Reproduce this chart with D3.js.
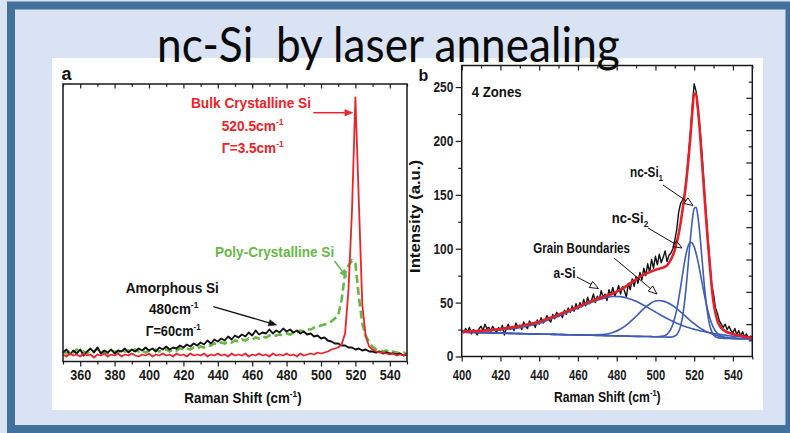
<!DOCTYPE html>
<html><head><meta charset="utf-8">
<script src="https://cdn.jsdelivr.net/npm/d3@7"></script>
<style>html,body{margin:0;padding:0;background:#dae3f3;} svg{display:block;}</style>
</head><body>
<svg id="chart" width="790" height="433"></svg>
<script>
// ---------- DATA ----------
const titleText = 'nc-Si\u00a0\u00a0by laser annealing';
// Panel a: Raman shift grid (cm-1), step 2
const shiftA = d3.range(350, 551, 2);
const redA = [
 7,5,8,6,7,5,8,6,7,4,
 7,6,8,5,7,6,8,5,7,6,
 8,6,5,7,6,8,5,7,6,8,
 6,7,5,8,6,7,5,8,6,7,
 6,8,5,7,6,8,6,7,5,8,
 6,7,6,8,5,7,6,8,6,7,
 5,8,6,7,6,8,6,7,5,8,
 6,7,8,7,9,8,9,10,12,13,
 14,17,28,72,150,264,160,57,25,15,
 12,10,9,9,8,7,8,6,7,6,8];
const greenA = [
 10,8,11,9,12,9,10,8,11,10,
 13,9,10,8,11,10,9,12,10,11,
 9,12,10,11,9,11,10,12,10,11,
 12,10,12,11,13,12,13,12,14,13,
 15,14,16,16,18,17,19,18,20,19,
 21,20,22,21,23,22,24,23,25,24,
 26,25,26,27,26,28,27,29,29,31,
 30,32,32,34,34,36,37,38,40,43,
 46,62,88,96,101,98,65,38,26,19,
 15,12,11,10,11,9,10,9,8,9,8];
const blackA = [
 9,12,7,11,8,12,6,10,13,9,
 14,8,11,9,12,8,11,10,13,9,
 12,10,13,11,14,11,13,10,14,12,
 15,12,14,13,16,14,17,15,18,16,
 19,17,21,18,22,20,23,21,25,22,
 26,24,27,25,29,26,31,27,29,28,
 32,28,31,29,33,30,32,29,31,28,
 30,27,28,25,26,23,24,21,20,18,
 18,16,16,14,14,12,13,11,12,10,
 10,9,10,8,9,8,8,7,8,6,7];
const ticksAx = [360,380,400,420,440,460,480,500,520,540];
const minorAx = [350,370,390,410,430,450,470,490,510,530,550];

// Panel b: measured spectrum, step 1
const shiftB = d3.range(400, 551, 1);
const blackB = [
 24,22,26,23,27,21,25,23,20,26,
 28,24,30,26,27,23,28,25,22,27,
 24,29,20,26,30,25,28,24,31,27,
 29,25,32,28,26,33,29,31,27,34,
 30,36,31,33,38,34,32,39,35,41,
 37,40,36,43,39,45,41,47,42,49,
 44,50,46,53,47,55,49,52,58,50,
 56,53,61,55,58,52,62,57,64,56,
 60,66,58,65,61,55,68,62,72,65,
 74,68,78,71,82,75,86,78,90,82,
 93,85,95,87,92,98,88,94,96,100,
 108,118,134,142,145,150,166,186,206,232,
 253,246,226,212,188,162,136,112,90,66,
 58,45,40,33,30,27,30,25,28,24,
 22,26,20,24,19,23,18,21,17,19,18];
// Panel b: fitted components
const fitX = [400,405,410,415,420,425,430,435,440,445,450,455,460,465,470,
 474,478,482,486,490,494,498,
 500,502,504,506,508,
 509,510,511,512,513,514,515,516,517,518,519,520,521,522,523,524,525,526,527,528,529,530,
 532,534,536,538,540,
 543,546,550];
const aSiB = [23.5,23.6,23.8,24.1,24.7,25.5,26.7,28.5,30.8,34.1,37.4,41.2,45.0,48.8,52.1,
 54.4,55.7,55.6,53.9,51.2,47.6,43.4,
 41.3,39.2,37.1,35.2,33.5,
 32.6,31.8,30.9,30.2,29.4,28.7,28.1,27.4,26.9,26.3,25.8,25.3,24.8,24.4,23.9,23.5,23.2,22.8,22.5,22.1,21.8,21.4,
 20.9,20.3,19.8,19.3,18.9,
 18.4,17.9,17.3];
const gbB = [22.5,22.3,22.1,21.9,21.7,21.5,21.2,21.0,20.8,20.6,20.4,20.2,20.0,19.9,20.1,
 20.7,22.3,25.5,30.6,37.3,44.5,49.9,
 51.4,51.9,51.4,50.1,48.3,
 47.1,45.8,44.3,42.9,41.3,39.7,38.1,36.5,34.9,33.3,31.8,30.4,29.0,27.7,26.4,25.4,24.3,23.3,22.5,21.7,21.0,20.3,
 19.3,18.5,17.9,17.4,17.1,
 16.7,16.5,16.2];
const ncSi2B = [22.5,22.3,22.1,21.9,21.7,21.5,21.2,21.0,20.8,20.6,20.4,20.2,20.0,19.8,19.6,
 19.4,19.2,19.1,18.9,18.7,18.6,18.4,
 18.3,18.4,18.9,20.6,25.6,
 29.9,36.0,43.8,53.5,64.5,76.2,87.3,96.6,103.3,106.0,105.2,101.7,95.6,87.8,78.7,69.1,59.7,50.8,43.0,36.3,30.9,26.6,
 21.3,18.6,17.4,16.9,16.7,
 16.5,16.4,16.2];
const ncSi1B = [22.5,22.3,22.1,21.9,21.7,21.5,21.2,21.0,20.8,20.6,20.4,20.2,20.0,19.8,19.6,
 19.4,19.2,19.1,18.9,18.7,18.6,18.4,
 18.3,18.2,18.1,18.0,18.0,
 18.3,19.0,20.3,23.2,28.4,37.1,50.0,67.2,87.7,108.6,126.2,137.5,138.5,128.8,112.3,91.7,70.9,52.8,38.9,29.2,23.3,20.0,
 17.5,17.0,16.8,16.7,16.6,
 16.5,16.4,16.2];
const fitB = [23,23.3,23.8,24.5,25.5,26.8,28.3,30.2,32.3,35.5,38.8,42.5,46,50,53.5,
 56,58.5,62,66.5,71.5,76,79,
 80.5,81.5,82.5,84.5,90,
 94,99,106,114,124,136,149,164,182,203,226,244,243,229,207,182,157,132,108,86,66,50,
 33,26.5,23.5,22,20.8,
 19.6,18.4,17.3];
const ticksBx = [400,420,440,460,480,500,520,540];
const minorBx = [410,430,450,470,490,510,530,550];
const ticksBy = [0,50,100,150,200,250];
const minorBy = [25,75,125,175,225];
const ticksBr = [30,60,90,120,150,180,210,240];
const minorBr = [15,45,75,105,135,165,195,225,255];

// ---------- DRAWING ----------
const FONT = "'Liberation Sans', Arial, Helvetica, sans-serif";
const svg = d3.select('#chart');
svg.append('rect').attr('width', 790).attr('height', 433).attr('fill', '#dae3f3');
svg.append('rect').attr('x', 11).attr('y', 5.5).attr('width', 778.5).attr('height', 423.5)
  .attr('fill', 'none').attr('stroke', '#41719c').attr('stroke-width', 8);
svg.append('rect').attr('x', 52).attr('y', 58).attr('width', 711).attr('height', 352).attr('fill', '#fff');

function label(g, x, y, parts, o) {
  const t = g.append('text').attr('font-family', o.family || FONT)
    .attr('font-weight', o.weight || 'bold').attr('font-size', o.size).attr('fill', o.color || '#111');
  let shift = 0;
  parts.forEach(p => {
    const s = typeof p === 'string' ? {t: p} : p;
    const ts = t.append('tspan').text(s.t);
    const target = s.s === 'sup' ? -o.size * 0.42 : s.s === 'sub' ? o.size * 0.3 : 0;
    if (target - shift !== 0) ts.attr('dy', target - shift);
    shift = target;
    if (s.s) ts.attr('font-size', o.size * 0.62);
  });
  const w = t.node().getComputedTextLength();
  const sx = o.w ? o.w / w : (o.sx || 1);
  let x0 = x;
  if (o.anchor === 'middle') x0 = x - w * sx / 2;
  t.attr('transform', `translate(${x0},${y}) scale(${sx},1)`);
  return t;
}

function arrow(g, x1, y1, x2, y2, color, filled, sw) {
  const a = Math.atan2(y2 - y1, x2 - x1);
  const L = filled ? 8 : 8.5, W = filled ? 3.2 : 3.4;
  const bx = x2 - L * Math.cos(a), by = y2 - L * Math.sin(a);
  const px = -Math.sin(a) * W, py = Math.cos(a) * W;
  g.append('line').attr('x1', x1).attr('y1', y1).attr('x2', bx).attr('y2', by)
    .attr('stroke', color).attr('stroke-width', sw);
  g.append('path').attr('d', `M${x2},${y2}L${bx + px},${by + py}L${bx - px},${by - py}Z`)
    .attr('fill', filled ? color : 'none').attr('stroke', color).attr('stroke-width', filled ? 0.5 : 1)
    .attr('stroke-linejoin', 'miter');
}

function styleAxis(sel, fs) {
  sel.select('.domain').remove();
  sel.attr('font-family', FONT).attr('font-size', fs || 14).attr('font-weight', 'bold')
    .attr('color', '#1a1a1a');
  sel.selectAll('.tick line').attr('stroke-width', 1.2);
}

// ===== Panel a =====
const gA = svg.append('g');
const xA = d3.scaleLinear().domain([350, 550]).range([63, 407]);
const yA = d3.scaleLinear().domain([0, 277.5]).range([361.5, 84]);

const bA = gA.append('g').attr('transform', 'translate(0,361.5)')
  .call(d3.axisBottom(xA).tickValues(ticksAx).tickSize(5).tickFormat(d3.format('d')));
styleAxis(bA);
bA.selectAll('text').attr('y', 19).attr('dy', null).attr('transform', 'scale(0.9,1)');
styleAxis(gA.append('g').attr('transform', 'translate(0,361.5)')
  .call(d3.axisBottom(xA).tickValues(minorAx).tickSize(3).tickFormat('')));
styleAxis(gA.append('g').attr('transform', 'translate(0,84)')
  .call(d3.axisTop(xA).tickValues(ticksAx).tickSize(-4.5).tickFormat('')));
styleAxis(gA.append('g').attr('transform', 'translate(0,84)')
  .call(d3.axisTop(xA).tickValues(minorAx).tickSize(-2.7).tickFormat('')));

const lineA = d3.line().x((d, i) => xA(shiftA[i])).y(d => yA(d));
gA.append('path').datum(greenA).attr('d', lineA).attr('fill', 'none')
  .attr('stroke', '#66b946').attr('stroke-width', 2.6).attr('stroke-dasharray', '8,4');
gA.append('path').datum(blackA).attr('d', lineA).attr('fill', 'none')
  .attr('stroke', '#111').attr('stroke-width', 1.9).attr('stroke-linejoin', 'round');
gA.append('path').datum(redA).attr('d', lineA).attr('fill', 'none')
  .attr('stroke', '#ee2229').attr('stroke-width', 1.8).attr('stroke-linejoin', 'round');

gA.append('rect').attr('x', 63).attr('y', 84).attr('width', 344).attr('height', 277.5)
  .attr('fill', 'none').attr('stroke', '#1a1a1a').attr('stroke-width', 1.5);

label(gA, 61.5, 79.5, ['a'], {size: 18});
label(gA, 191, 108, ['Bulk Crystalline Si'], {size: 14, w: 120, color: '#ee2229'});
label(gA, 221.7, 131, ['520.5cm', {t: '-1', s: 'sup'}], {size: 14, w: 61.8, color: '#ee2229'});
label(gA, 221.7, 153, ['\u0393=3.5cm', {t: '-1', s: 'sup'}], {size: 14, w: 62, color: '#ee2229'});
arrow(gA, 313.3, 112.7, 352.8, 112.7, '#ee2229', true, 1.5);
label(gA, 215, 257, ['Poly-Crystalline Si'], {size: 14, w: 119.3, color: '#66b946'});
arrow(gA, 334.5, 261, 347, 277.5, '#66b946', true, 1.6);
label(gA, 125.7, 292.5, ['Amorphous Si'], {size: 14, w: 93.3});
label(gA, 149, 314, ['480cm', {t: '-1', s: 'sup'}], {size: 14, w: 49.3});
label(gA, 145.7, 336, ['\u0393=60cm', {t: '-1', s: 'sup'}], {size: 14, w: 55});
arrow(gA, 213.3, 306.7, 276.7, 325, '#111', true, 1.3);
label(gA, 184.3, 403, ['Raman Shift (cm', {t: '-1', s: 'sup'}, ')'], {size: 14, w: 117.4});

// ===== Panel b =====
const gB = svg.append('g');
const xB = d3.scaleLinear().domain([400, 550]).range([461.7, 752.3]);
const yB = d3.scaleLinear().domain([0, 270]).range([356.5, 65.5]);

const bB = gB.append('g').attr('transform', 'translate(0,356.5)')
  .call(d3.axisBottom(xB).tickValues(ticksBx).tickSize(5).tickFormat(d3.format('d')));
styleAxis(bB);
bB.selectAll('text').attr('y', 23.5).attr('dy', null).attr('transform', 'scale(0.8,1)');
styleAxis(gB.append('g').attr('transform', 'translate(0,356.5)')
  .call(d3.axisBottom(xB).tickValues(minorBx).tickSize(3).tickFormat('')));
styleAxis(gB.append('g').attr('transform', 'translate(0,65.5)')
  .call(d3.axisTop(xB).tickValues(ticksBx).tickSize(-5).tickFormat('')));
styleAxis(gB.append('g').attr('transform', 'translate(0,65.5)')
  .call(d3.axisTop(xB).tickValues(minorBx).tickSize(-3).tickFormat('')));
const lB = gB.append('g').attr('transform', 'translate(461.7,0)')
  .call(d3.axisLeft(yB).tickValues(ticksBy).tickSize(6).tickFormat(d3.format('d')));
styleAxis(lB);
lB.selectAll('text').attr('x', null).attr('transform', 'translate(-8.4,0) scale(0.85,1)');
styleAxis(gB.append('g').attr('transform', 'translate(461.7,0)')
  .call(d3.axisLeft(yB).tickValues(minorBy).tickSize(3.5).tickFormat('')));
styleAxis(gB.append('g').attr('transform', 'translate(752.3,0)')
  .call(d3.axisRight(yB).tickValues(ticksBr).tickSize(-6).tickFormat('')));
styleAxis(gB.append('g').attr('transform', 'translate(752.3,0)')
  .call(d3.axisRight(yB).tickValues(minorBr).tickSize(-3.5).tickFormat('')));

const lineBd = d3.line().x((d, i) => xB(shiftB[i])).y(d => yB(d));
gB.append('path').datum(blackB).attr('d', lineBd).attr('fill', 'none')
  .attr('stroke', '#111').attr('stroke-width', 1.4).attr('stroke-linejoin', 'round');
const lineBf = d3.line().x((d, i) => xB(fitX[i])).y(d => yB(d)).curve(d3.curveMonotoneX);
[aSiB, gbB, ncSi2B, ncSi1B].forEach(arr => {
  gB.append('path').datum(arr).attr('d', lineBf).attr('fill', 'none')
    .attr('stroke', '#3f5cb6').attr('stroke-width', 1.6);
});
gB.append('path').datum(fitB).attr('d', lineBf).attr('fill', 'none')
  .attr('stroke', '#e3212a').attr('stroke-width', 2.6).attr('stroke-linejoin', 'round');

gB.append('rect').attr('x', 461.7).attr('y', 65.5).attr('width', 290.6).attr('height', 291)
  .attr('fill', 'none').attr('stroke', '#1a1a1a').attr('stroke-width', 1.5);

label(gB, 418.5, 81, ['b'], {size: 16});
label(gB, 471.7, 96.5, ['4 Zones'], {size: 15, w: 50});
label(gB, 630, 176.7, ['nc-Si', {t: '1', s: 'sub'}], {size: 14, w: 32.7});
arrow(gB, 663, 185, 693, 205.5, '#111', false, 1);
label(gB, 611.7, 222.7, ['nc-Si', {t: '2', s: 'sub'}], {size: 14, w: 36.6});
arrow(gB, 648, 228, 682, 248, '#111', false, 1);
label(gB, 533.3, 252.7, ['Grain Boundaries'], {size: 14, w: 96.7});
arrow(gB, 614, 258, 657, 294, '#111', false, 1);
label(gB, 553.5, 277.5, ['a-Si'], {size: 14, w: 22});
arrow(gB, 577, 277, 598.5, 288.5, '#111', false, 1);
label(gB, 554, 401.5, ['Raman Shift (cm', {t: '-1', s: 'sup'}, ')'], {size: 14, w: 106.7});

// rotated y title
const yt = gB.append('text').attr('font-family', FONT).attr('font-weight', 'bold')
  .attr('font-size', 16.5).attr('fill', '#111').attr('text-anchor', 'middle').text('Intensity (a.u.)');
const ytw = yt.node().getComputedTextLength();
yt.attr('transform', `translate(419.5,216.5) rotate(-90) scale(${113 / ytw},0.86)`);

// ===== Title =====
label(svg, 157, 61.5, [titleText],
  {size: 49, w: 463, weight: 'normal', family: "Lato, 'Open Sans', 'Noto Sans', sans-serif", color: '#0a0a0a'});
</script>
</body></html>
